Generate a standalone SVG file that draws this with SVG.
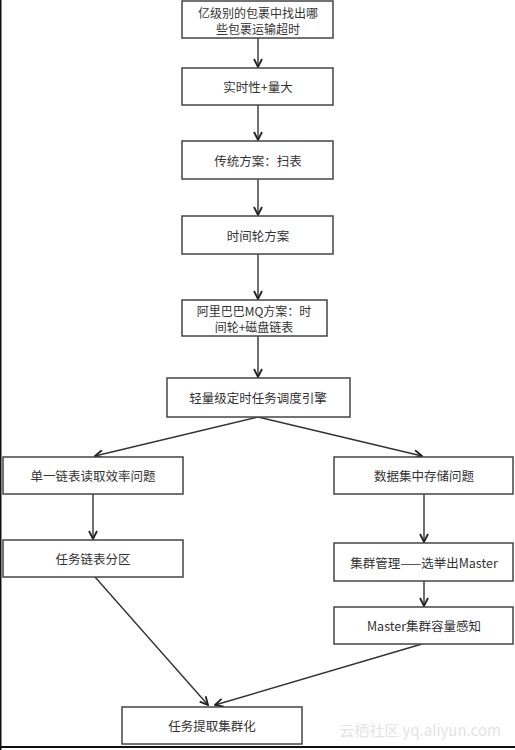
<svg xmlns="http://www.w3.org/2000/svg" width="515" height="750" viewBox="0 0 515 750">
<style>
.box{fill:#fff;stroke:#444;stroke-width:1.5}
.t{font-family:"Noto Sans CJK SC","Liberation Sans",sans-serif;font-size:12.5px;fill:#333;text-anchor:middle;dominant-baseline:central}
.t2{font-size:12px}
.c{fill:none;stroke:#333;stroke-width:1.4;marker-end:url(#ah)}
</style>
<defs>
<marker id="ah" viewBox="0 0 10 10" refX="9" refY="5" markerWidth="10" markerHeight="10" markerUnits="userSpaceOnUse" orient="auto">
<path d="M1,1 L9,5 L1,9" fill="none" stroke="#222" stroke-width="1.8"/>
</marker>
</defs>
<rect width="515" height="750" fill="#fff"/>
<rect x="0" y="0" width="1.5" height="750" fill="#111"/>
<rect x="0" y="746" width="515" height="2" fill="#111"/>
<g id="connectors">
<line class="c" x1="258" y1="38" x2="258" y2="67"/>
<line class="c" x1="258" y1="105" x2="258" y2="140"/>
<line class="c" x1="258" y1="179" x2="258" y2="215"/>
<line class="c" x1="258" y1="254" x2="258" y2="299"/>
<line class="c" x1="258" y1="336" x2="258" y2="377"/>
<line class="c" x1="258" y1="417" x2="95" y2="456"/>
<line class="c" x1="258" y1="417" x2="422" y2="456"/>
<line class="c" x1="93" y1="494" x2="93" y2="539"/>
<line class="c" x1="424" y1="494" x2="424" y2="542"/>
<line class="c" x1="424" y1="581" x2="424" y2="606"/>
<line class="c" x1="95" y1="577" x2="208" y2="705"/>
<line class="c" x1="422" y1="644" x2="215" y2="705"/>
</g>
<g id="n1"><rect class="box" x="182" y="1" width="151" height="37"/>
<text class="t t2" x="258" y="12">亿级别的包裹中找出哪</text><text class="t t2" x="258" y="28">些包裹运输超时</text></g>
<g id="n2"><rect class="box" x="182" y="68" width="151" height="37"/>
<text class="t" x="258" y="86.5">实时性+量大</text></g>
<g id="n3"><rect class="box" x="182" y="141" width="151" height="38"/>
<text class="t" x="258" y="160">传统方案：扫表</text></g>
<g id="n4"><rect class="box" x="182" y="216" width="151" height="38"/>
<text class="t" x="258" y="235">时间轮方案</text></g>
<g id="n5"><rect class="box" x="182" y="300" width="145" height="36"/>
<text class="t t2" x="254" y="310.5">阿里巴巴MQ方案：时</text><text class="t t2" x="254" y="326.5">间轮+磁盘链表</text></g>
<g id="n6"><rect class="box" x="167" y="378" width="183" height="39"/>
<text class="t" x="258" y="397.5">轻量级定时任务调度引擎</text></g>
<g id="n7"><rect class="box" x="3" y="457" width="180" height="37"/>
<text class="t" x="93" y="475.5">单一链表读取效率问题</text></g>
<g id="n8"><rect class="box" x="3" y="540" width="180" height="37"/>
<text class="t" x="93" y="558.5">任务链表分区</text></g>
<g id="n9"><rect class="box" x="334" y="457" width="179" height="37"/>
<text class="t" x="424" y="475.5">数据集中存储问题</text></g>
<g id="n10"><rect class="box" x="334" y="543" width="179" height="38"/>
<text class="t" x="424" y="562">集群管理——选举出Master</text></g>
<g id="n11"><rect class="box" x="334" y="607" width="179" height="37"/>
<text class="t" x="424" y="625.5">Master集群容量感知</text></g>
<g id="n12"><rect class="box" x="122" y="707" width="180" height="37"/>
<text class="t" x="212" y="725.5">任务提取集群化</text></g>
<text x="420" y="729" font-family="Noto Sans CJK SC,Liberation Sans,sans-serif" font-size="15" fill="#e4e4e4" text-anchor="middle" dominant-baseline="central">云栖社区 yq.aliyun.com</text>
</svg>
